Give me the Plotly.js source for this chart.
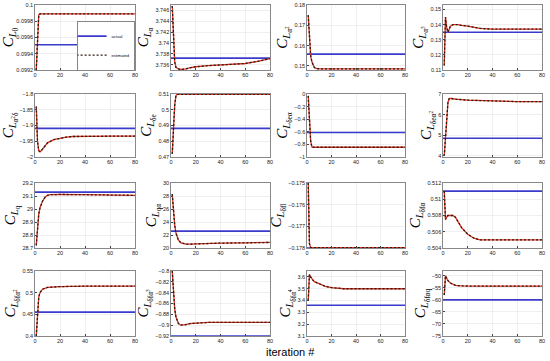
<!DOCTYPE html>
<html><head><meta charset="utf-8">
<script src="https://cdn.plot.ly/plotly-3.0.1.min.js"></script>
<style>body{margin:0;background:#fff}#c{width:550px;height:361px}</style>
</head><body><div id="c"></div>
<script>
// iteration axis
const xTicks = [0, 20, 40, 60, 80];
const xLabel = 'iteration #';

// panel labels (row-major)
const labels = [
  '<i>C</i><sub><i>L</i><sub>0</sub></sub>',
  '<i>C</i><sub><i>L</i><sub>α</sub></sub>',
  '<i>C</i><sub><i>L</i><sub>α<sup>2</sup></sub></sub>',
  '<i>C</i><sub><i>L</i><sub>α<sup>3</sup></sub></sub>',
  '<i>C</i><sub><i>L</i><sub>α<sup>2</sup>δ</sub></sub>',
  '<i>C</i><sub><i>L</i><sub>δe</sub></sub>',
  '<i>C</i><sub><i>L</i><sub>δeα</sub></sub>',
  '<i>C</i><sub><i>L</i><sub>δeα<sup>2</sup></sub></sub>',
  '<i>C</i><sub><i>L</i><sub>q</sub></sub>',
  '<i>C</i><sub><i>L</i><sub>qα</sub></sub>',
  '<i>C</i><sub><i>L</i><sub>δfl</sub></sub>',
  '<i>C</i><sub><i>L</i><sub>δfα</sub></sub>',
  '<i>C</i><sub><i>L</i><sub>δfα<sup>2</sup></sub></sub>',
  '<i>C</i><sub><i>L</i><sub>δfα<sup>3</sup></sub></sub>',
  '<i>C</i><sub><i>L</i><sub>δfα<sup>4</sup></sub></sub>',
  '<i>C</i><sub><i>L</i><sub>δfαq</sub></sub>'
];

// actual (true) parameter values
const actual = [0.09951, 3.7372, 0.1558, 0.135,
                -1.909, 0.4882, -0.61, 4.86,
                29.13, 22.6, -0.178, 0.511,
                0.455, -0.92, 3.36, -60];

// estimated parameter trajectories
const estX1 = [1, 2, 3, 4, 80];
const estY1 = [0.0992, 0.0996, 0.09988, 0.09989, 0.09989];
const estX2 = [1, 2, 3, 4, 6, 8, 10, 12, 15, 20, 30, 40, 50, 60, 70, 80];
const estY2 = [3.7468, 3.741, 3.7365, 3.7355, 3.7352, 3.7351, 3.7351, 3.7352, 3.7354, 3.7356, 3.7358, 3.7359, 3.736, 3.7362, 3.7366, 3.7371];
const estX3 = [1, 2, 3, 4, 5, 6, 8, 10, 80];
const estY3 = [0.175, 0.162, 0.155, 0.152, 0.150, 0.1492, 0.1487, 0.1486, 0.1486];
const estX4 = [1, 2, 3, 4, 5, 6, 8, 10, 12, 15, 20, 30, 40, 60, 80];
const estY4 = [0.113, 0.145, 0.138, 0.135, 0.137, 0.139, 0.140, 0.140, 0.140, 0.1395, 0.139, 0.1375, 0.137, 0.137, 0.137];
const estX5 = [1, 2, 3, 4, 5, 6, 8, 10, 15, 20, 25, 30, 40, 60, 80];
const estY5 = [-1.84, -1.95, -1.98, -1.983, -1.98, -1.975, -1.965, -1.955, -1.945, -1.94, -1.937, -1.935, -1.934, -1.934, -1.934];
const estX6 = [1, 2, 3, 4, 5, 80];
const estY6 = [0.472, 0.49, 0.503, 0.509, 0.5098, 0.5098];
const estX7 = [1, 2, 3, 4, 5, 80];
const estY7 = [-0.03, -0.4, -0.75, -0.84, -0.845, -0.845];
const estX8 = [1, 2, 3, 4, 5, 6, 8, 10, 20, 40, 60, 80];
const estY8 = [4.0, 5.0, 6.0, 6.6, 6.78, 6.79, 6.77, 6.75, 6.7, 6.65, 6.63, 6.63];
const estX9 = [1, 2, 3, 4, 5, 6, 8, 10, 12, 15, 20, 40, 60, 80];
const estY9 = [28.72, 28.88, 28.96, 29.01, 29.04, 29.06, 29.09, 29.105, 29.11, 29.112, 29.112, 29.11, 29.108, 29.105];
const estX10 = [1, 2, 3, 4, 5, 6, 8, 10, 12, 15, 20, 30, 40, 60, 80];
const estY10 = [28.3, 25.5, 23.5, 22.3, 21.6, 21.2, 20.8, 20.65, 20.6, 20.6, 20.65, 20.7, 20.75, 20.8, 20.85];
const estX11 = [1, 2, 3, 80];
const estY11 = [-0.175, -0.1778, -0.17798, -0.17798];
const estX12 = [1, 2, 3, 4, 6, 8, 10, 12, 15, 20, 25, 30, 40, 80];
const estY12 = [0.511, 0.5075, 0.5078, 0.508, 0.508, 0.508, 0.5078, 0.5073, 0.5065, 0.5057, 0.5052, 0.505, 0.505, 0.505];
const estX13 = [1, 2, 3, 4, 5, 6, 8, 10, 20, 40, 80];
const estY13 = [0.40, 0.46, 0.49, 0.50, 0.505, 0.508, 0.51, 0.512, 0.514, 0.515, 0.515];
const estX14 = [1, 2, 3, 4, 6, 8, 10, 12, 15, 20, 30, 40, 60, 80];
const estY14 = [-0.80, -0.84, -0.87, -0.885, -0.897, -0.9, -0.9, -0.899, -0.897, -0.896, -0.895, -0.895, -0.895, -0.895];
const estX15 = [1, 2, 3, 4, 5, 6, 8, 10, 15, 20, 30, 40, 60, 80];
const estY15 = [3.4, 3.62, 3.6, 3.58, 3.57, 3.56, 3.55, 3.54, 3.52, 3.51, 3.5, 3.5, 3.5, 3.5];
const estX16 = [1, 2, 3, 4, 6, 8, 10, 15, 20, 30, 40, 60, 80];
const estY16 = [-58, -50, -51, -52, -53, -53.5, -54, -54.2, -54.3, -54.3, -54.3, -54.3, -54.3];

const estXs = [estX1, estX2, estX3, estX4, estX5, estX6, estX7, estX8, estX9, estX10, estX11, estX12, estX13, estX14, estX15, estX16];
const estYs = [estY1, estY2, estY3, estY4, estY5, estY6, estY7, estY8, estY9, estY10, estY11, estY12, estY13, estY14, estY15, estY16];

// y ranges and tick values per panel
const yRanges = [[0.0992, 0.1], [3.735, 3.747], [0.148, 0.18], [0.11, 0.153],
                 [-2, -1.8], [0.47, 0.51], [-1, 0], [3.95, 7],
                 [28.7, 29.2], [20, 30], [-0.178, -0.175], [0.504, 0.512],
                 [0.4, 0.55], [-0.92, -0.8], [3.1, 3.65], [-75, -48]];
const yTicks = [[0.0992, 0.0994, 0.0996, 0.0998, 0.1], [3.736, 3.738, 3.74, 3.742, 3.744, 3.746], [0.15, 0.16, 0.17, 0.18], [0.11, 0.12, 0.13, 0.14, 0.15],
                [-2, -1.95, -1.9, -1.85, -1.8], [0.47, 0.48, 0.49, 0.5, 0.51], [-1, -0.8, -0.6, -0.4, -0.2, 0], [4, 5, 6, 7],
                [28.7, 28.8, 28.9, 29, 29.1, 29.2], [20, 22, 24, 26, 28, 30], [-0.178, -0.177, -0.176, -0.175], [0.504, 0.506, 0.508, 0.51, 0.512],
                [0.4, 0.45, 0.5, 0.55], [-0.92, -0.9, -0.88, -0.86, -0.84, -0.82, -0.8], [3.1, 3.2, 3.3, 3.4, 3.5, 3.6], [-75, -70, -65, -60, -55, -50]];

const W = 550, H = 361;
const colPx = [[35, 135], [171, 270], [307, 405], [443, 542]];
const rowPx = [[5, 70], [94, 157], [183, 248], [271, 336]];

const traces = [];
const layout = {
  width: W, height: H, margin: {l: 0, r: 0, t: 0, b: 0},
  paper_bgcolor: '#fff', plot_bgcolor: '#fff',
  showlegend: true,
  legend: {x: 135 / W, y: 1 - 21 / H, xanchor: 'right', yanchor: 'top',
           bgcolor: '#fff', bordercolor: '#333', borderwidth: 0.6,
           font: {family: 'Liberation Sans', size: 4, color: '#000'},
           tracegroupgap: 0, itemwidth: 30, indentation: -6},
  annotations: [{text: xLabel, xref: 'paper', yref: 'paper', x: 290 / W, y: 1 - 352 / H,
                 xanchor: 'center', yanchor: 'middle',
                 showarrow: false, font: {family: 'Liberation Sans', size: 11, color: '#000'}}]
};

for (let i = 0; i < 16; i++) {
  const r = Math.floor(i / 4), c = i % 4;
  const k = i === 0 ? '' : String(i + 1);
  const xa = 'x' + k, ya = 'y' + k;
  traces.push({x: [0, 80], y: [actual[i], actual[i]], xaxis: xa, yaxis: ya, mode: 'lines',
               line: {color: '#3a3acc', width: 1.6}, name: 'actual', showlegend: i === 0});
  traces.push({x: estXs[i], y: estYs[i], xaxis: xa, yaxis: ya, mode: 'lines',
               line: {color: '#e03020', width: 1.3}, name: 'estimated-bg', showlegend: false, hoverinfo: 'skip'});
  traces.push({x: estXs[i], y: estYs[i], xaxis: xa, yaxis: ya, mode: 'lines',
               line: {color: '#2a1a10', width: 1.3, dash: '2px,2px'}, name: 'estimated', showlegend: i === 0});
  layout['xaxis' + k] = {
    domain: [colPx[c][0] / W, colPx[c][1] / W], anchor: ya, range: [0, 80],
    tickvals: xTicks, ticks: 'inside', ticklen: 2, tickcolor: '#444',
    showgrid: true, gridcolor: '#e4e4e4', gridwidth: 0.6, zeroline: false,
    showline: true, linecolor: '#555', linewidth: 0.7, mirror: true,
    tickfont: {family: 'Liberation Sans', size: 5.5, color: '#222'}
  };
  layout['yaxis' + k] = {
    domain: [1 - rowPx[r][1] / H, 1 - rowPx[r][0] / H], anchor: xa, range: yRanges[i],
    tickvals: yTicks[i], ticks: 'inside', ticklen: 2, tickcolor: '#444',
    showgrid: true, gridcolor: '#e4e4e4', gridwidth: 0.6, zeroline: false,
    showline: true, linecolor: '#555', linewidth: 0.7, mirror: true,
    tickfont: {family: 'Liberation Sans', size: 5.5, color: '#222'},
    title: {text: labels[i], font: {family: 'Liberation Serif', size: 15, color: '#000'}, standoff: 2}
  };
}

Plotly.newPlot('c', traces, layout, {staticPlot: true});
</script></body></html>
